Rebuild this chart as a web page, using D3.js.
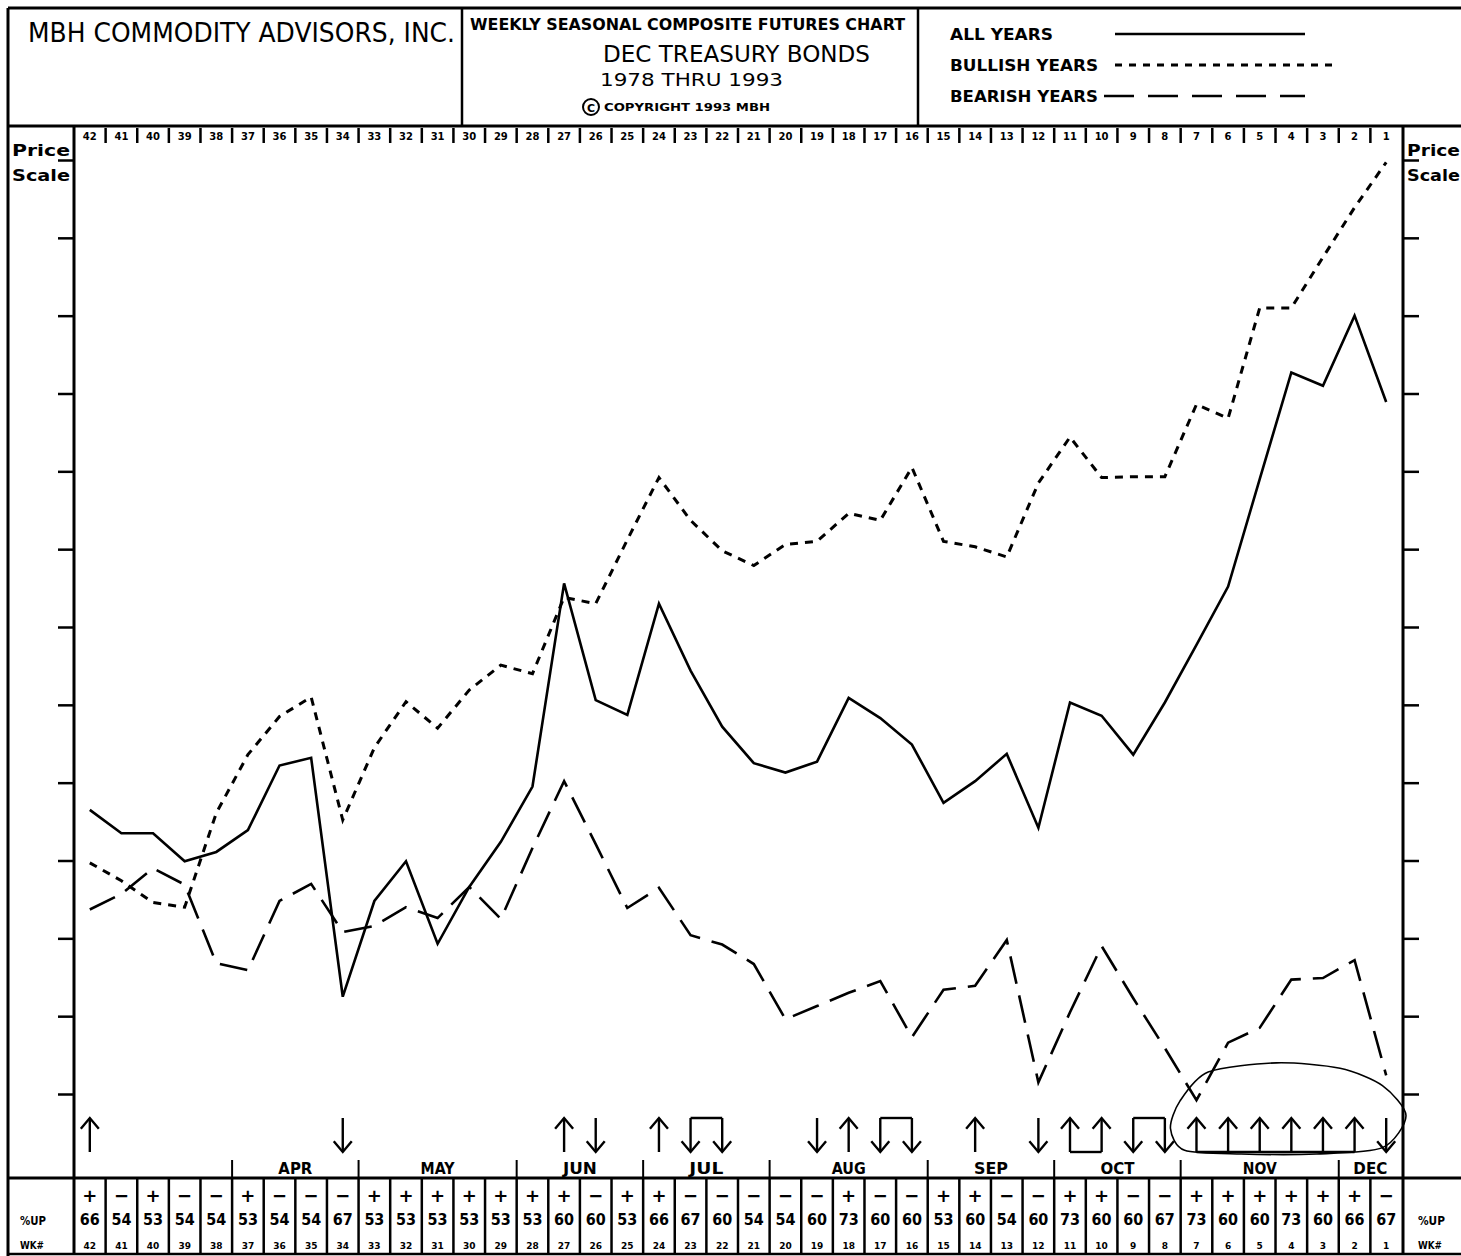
<!DOCTYPE html>
<html>
<head>
<meta charset="utf-8">
<script src="https://cdn.jsdelivr.net/npm/d3@7"></script>
<style>
  html, body { margin: 0; padding: 0; background: #fff; }
  svg { display: block; }
  text { font-family: "DejaVu Sans", "Liberation Sans", sans-serif; fill: #000; }
</style>
</head>
<body>
<script>
// Weeks before contract expiry, plotted left (42) to right (1)
const weeks = d3.range(42, 0, -1);

// Composite price index per week (arbitrary price-scale units)
const allYears = [3.65, 3.35, 3.35, 2.99, 3.11, 3.39, 4.22, 4.32, 1.25, 2.48,
                  2.99, 1.93, 2.66, 3.24, 3.95, 6.56, 5.06, 4.87, 6.30, 5.44,
                  4.72, 4.25, 4.13, 4.27, 5.09, 4.83, 4.49, 3.74, 4.02, 4.37,
                  3.42, 5.03, 4.86, 4.36, 5.03, 5.77, 6.52, 7.90, 9.27, 9.10,
                  10.0, 8.89];
const bullishYears = [2.97, 2.74, 2.46, 2.40, 3.61, 4.36, 4.85, 5.10, 3.52, 4.45,
                      5.04, 4.70, 5.19, 5.51, 5.40, 6.38, 6.30, 7.12, 7.92, 7.37,
                      6.98, 6.79, 7.06, 7.10, 7.46, 7.37, 8.05, 7.10, 7.03, 6.90,
                      7.85, 8.44, 7.92, 7.93, 7.93, 8.86, 8.68, 10.10, 10.10, 10.75,
                      11.39, 11.97];
const bearishYears = [2.37, 2.57, 2.90, 2.69, 1.68, 1.59, 2.48, 2.70, 2.08, 2.16,
                      2.40, 2.26, 2.66, 2.25, 3.16, 4.02, 3.21, 2.39, 2.65, 2.04,
                      1.92, 1.67, 0.96, 1.13, 1.30, 1.45, 0.73, 1.34, 1.39, 1.98,
                      0.15, 1.05, 1.90, 1.23, 0.59, -0.08, 0.66, 0.85, 1.47, 1.49,
                      1.72, 0.24];

// Percentage of years the week closed up, and the prevailing direction
const pctUp = [66, 54, 53, 54, 54, 53, 54, 54, 67, 53, 53, 53, 53, 53, 53, 60, 60, 53, 66, 67, 60,
               54, 54, 60, 73, 60, 60, 53, 60, 54, 60, 73, 60, 60, 67, 73, 60, 60, 73, 60, 66, 67];
const direction = ["+", "−", "+", "−", "−", "+", "−", "−", "−", "+", "+", "+", "+", "+",
                   "+", "+", "−", "+", "+", "−", "−", "−", "−", "−", "+", "−", "−", "+",
                   "+", "−", "−", "+", "+", "−", "−", "+", "+", "+", "+", "+", "+", "−"];

// Months and the week each one begins with
const monthNames = ["APR", "MAY", "JUN", "JUL", "AUG", "SEP", "OCT", "NOV", "DEC"];
const monthStartWeek = [37, 33, 28, 24, 20, 15, 11, 7, 2];

// Price-scale tick values
const priceTicks = d3.range(0, 13);

// A week is flagged with an arrow when its %UP reaches this level
const signalThreshold = 60;

// ---------------------------------------------------------------------------
const W = 1461, H = 1256;
const frameL = 8, frameT = 8;
const headerB = 126;
const plotL = 74, plotR = 1402;
const tableT = 1178, tableB = 1254;
const div1 = 462, div2 = 918;
const ink = "#000";

const svg = d3.select("body").append("svg")
  .attr("width", W).attr("height", H)
  .attr("viewBox", `0 0 ${W} ${H}`);

svg.append("rect").attr("width", W).attr("height", H).attr("fill", "#fff");

const x = d3.scaleBand().domain(weeks).range([plotL, plotR]).padding(0);
const xc = w => x(w) + x.bandwidth() / 2;
const y = d3.scaleLinear().domain([0, 12]).range([1094, 160]);

function hline(x1, x2, yy, w = 2.5) {
  svg.append("line").attr("x1", x1).attr("x2", x2).attr("y1", yy).attr("y2", yy)
    .attr("stroke", ink).attr("stroke-width", w);
}
function vline(xx, y1, y2, w = 2.5) {
  svg.append("line").attr("x1", xx).attr("x2", xx).attr("y1", y1).attr("y2", y2)
    .attr("stroke", ink).attr("stroke-width", w);
}
function label(str, xx, yy, size, opts = {}) {
  const t = svg.append("text").attr("x", xx).attr("y", yy)
    .attr("font-size", size)
    .attr("font-weight", opts.weight || "normal")
    .attr("text-anchor", opts.anchor || "start")
    .text(str);
  if (opts.len) t.attr("textLength", opts.len).attr("lengthAdjust", "spacingAndGlyphs");
  return t;
}

// ---- outer frame and header boxes ----
hline(frameL, W, frameT, 3);
vline(frameL, frameT, H, 3);
hline(frameL, W, headerB, 3);
vline(div1, frameT, headerB, 2.5);
vline(div2, frameT, headerB, 2.5);

label("MBH COMMODITY ADVISORS, INC.", 28, 42, 26, { len: 427 });
label("WEEKLY SEASONAL COMPOSITE FUTURES CHART", 470, 30, 16, { weight: "bold", len: 435 });
label("DEC TREASURY BONDS", 603, 62, 23, { len: 267 });
label("1978 THRU 1993", 600, 86, 18, { len: 183 });
svg.append("circle").attr("cx", 591).attr("cy", 107).attr("r", 8)
  .attr("fill", "none").attr("stroke", ink).attr("stroke-width", 2);
label("C", 591, 111.5, 11, { weight: "bold", anchor: "middle" });
label("COPYRIGHT 1993 MBH", 604, 111, 10.5, { weight: "bold", len: 166 });

// legend
const legend = [
  { name: "ALL YEARS", yy: 34, dash: null, x1: 1115, x2: 1305, w: 2.5, len: 103 },
  { name: "BULLISH YEARS", yy: 65, dash: "7,7", x1: 1115, x2: 1337, w: 3, len: 148 },
  { name: "BEARISH YEARS", yy: 96, dash: "30,14", x1: 1104, x2: 1305, w: 2.5, len: 148 }
];
legend.forEach(l => {
  label(l.name, 950, l.yy + 6, 16, { weight: "bold", len: l.len });
  svg.append("line").attr("x1", l.x1).attr("x2", l.x2).attr("y1", l.yy).attr("y2", l.yy)
    .attr("stroke", ink).attr("stroke-width", l.w)
    .attr("stroke-dasharray", l.dash);
});

// ---- plot frame ----
vline(plotL, headerB, tableB, 3);
vline(plotR + 1, headerB, tableB, 3);

// week numbers along the top
weeks.forEach(w => {
  label(String(w), xc(w), 140, 10, { weight: "bold", anchor: "middle" });
  if (w !== 42) vline(x(w), 128, 143, 2.5);
});

// price-scale labels
["Price", "Scale"].forEach((s, i) => {
  label(s, 12, 156 + i * 25, 15, { weight: "bold", len: 58 });
  label(s, 1407, 156 + i * 25, 15, { weight: "bold", len: 53 });
});

// price-scale ticks (unlabelled)
const axL = svg.append("g").attr("transform", `translate(${plotL},0)`)
  .call(d3.axisLeft(y).tickValues(priceTicks).tickSize(16).tickSizeOuter(0).tickFormat(""));
const axR = svg.append("g").attr("transform", `translate(${plotR + 1},0)`)
  .call(d3.axisRight(y).tickValues(priceTicks).tickSize(16).tickSizeOuter(0).tickFormat(""));
[axL, axR].forEach(g => {
  g.select(".domain").remove();
  g.selectAll(".tick line").attr("stroke", ink).attr("stroke-width", 2.5);
});

// ---- composite lines ----
const line = d3.line().x((d, i) => xc(weeks[i])).y(d => y(d));
const series = [
  { values: bearishYears, dash: "28,12", w: 2.6 },
  { values: bullishYears, dash: "8,7", w: 3 },
  { values: allYears, dash: null, w: 2.6 }
];
svg.append("g").selectAll("path").data(series).join("path")
  .attr("d", d => line(d.values))
  .attr("fill", "none")
  .attr("stroke", ink)
  .attr("stroke-width", d => d.w)
  .attr("stroke-dasharray", d => d.dash)
  .attr("stroke-linejoin", "miter")
  .attr("stroke-linecap", "butt");

// ---- seasonal signal arrows ----
const arrowTop = 1118, arrowBot = 1152, head = 9;
const signals = weeks.map((w, i) => ({
  w, i,
  dir: pctUp[i] >= signalThreshold ? (direction[i] === "+" ? "up" : "down") : null
}));
const ag = svg.append("g").attr("stroke", ink).attr("stroke-width", 2.4).attr("fill", "none");
signals.filter(s => s.dir).forEach(s => {
  const cx = xc(s.w);
  ag.append("line").attr("x1", cx).attr("x2", cx).attr("y1", arrowTop).attr("y2", arrowBot);
  const tip = s.dir === "up" ? arrowTop : arrowBot;
  const back = s.dir === "up" ? tip + head * 1.2 : tip - head * 1.2;
  ag.append("path").attr("d", `M${cx - head},${back}L${cx},${tip}L${cx + head},${back}`);
});
// runs of consecutive same-direction signals are joined by a bracket
let runStart = 0;
for (let i = 1; i <= signals.length; i++) {
  const prev = signals[i - 1];
  const cur = signals[i];
  if (!cur || !cur.dir || cur.dir !== prev.dir) {
    const first = signals[runStart];
    if (prev.dir && i - 1 > runStart) {
      const yy = prev.dir === "up" ? arrowBot : arrowTop;
      ag.append("line").attr("x1", xc(first.w)).attr("x2", xc(prev.w))
        .attr("y1", yy).attr("y2", yy);
    }
    runStart = i;
  }
}

// ---- month strip ----
monthStartWeek.forEach((w, k) => {
  vline(x(w), 1160, tableT, 2);
  const endX = k + 1 < monthStartWeek.length ? x(monthStartWeek[k + 1]) : plotR;
  label(monthNames[k], (x(w) + endX) / 2, 1174, 15, { weight: "bold", anchor: "middle", len: 34 });
});

// ---- %UP / week table ----
hline(frameL, W, tableT, 3);
hline(frameL, W, tableB, 2.5);
weeks.forEach((w, i) => {
  if (w !== 42) vline(x(w), tableT, tableB, 2.5);
  label(direction[i] === "+" ? "+" : "−", xc(w), 1202, 18, { weight: "bold", anchor: "middle" });
  label(String(pctUp[i]), xc(w), 1225, 15, { weight: "bold", anchor: "middle", len: 20 });
  label(String(w), xc(w), 1249, 9, { weight: "bold", anchor: "middle" });
});
label("%UP", 20, 1225, 12, { weight: "bold", len: 26 });
label("WK#", 20, 1249, 11, { weight: "bold", len: 24 });
label("%UP", 1418, 1225, 12, { weight: "bold", len: 27 });
label("WK#", 1418, 1249, 11, { weight: "bold", len: 24 });

// ---- hand-drawn ring around the November run ----
const ringL = xc(7) - 26, ringR = plotR + 4, ringT = y(0.4), ringB = arrowBot + 2;
const ringPts = [[0.04, 0.42], [0.16, 0.1], [0.45, 0.0], [0.72, 0.06], [0.9, 0.25],
                 [1.0, 0.58], [0.9, 0.93], [0.62, 1.0], [0.3, 1.0], [0.06, 0.96], [0.0, 0.72]]
  .map(([u, v]) => [ringL + u * (ringR - ringL), ringT + v * (ringB - ringT)]);
svg.append("path")
  .attr("d", d3.line().curve(d3.curveCardinalClosed.tension(0.2))(ringPts))
  .attr("fill", "none").attr("stroke", ink).attr("stroke-width", 1.6);
</script>
</body>
</html>
